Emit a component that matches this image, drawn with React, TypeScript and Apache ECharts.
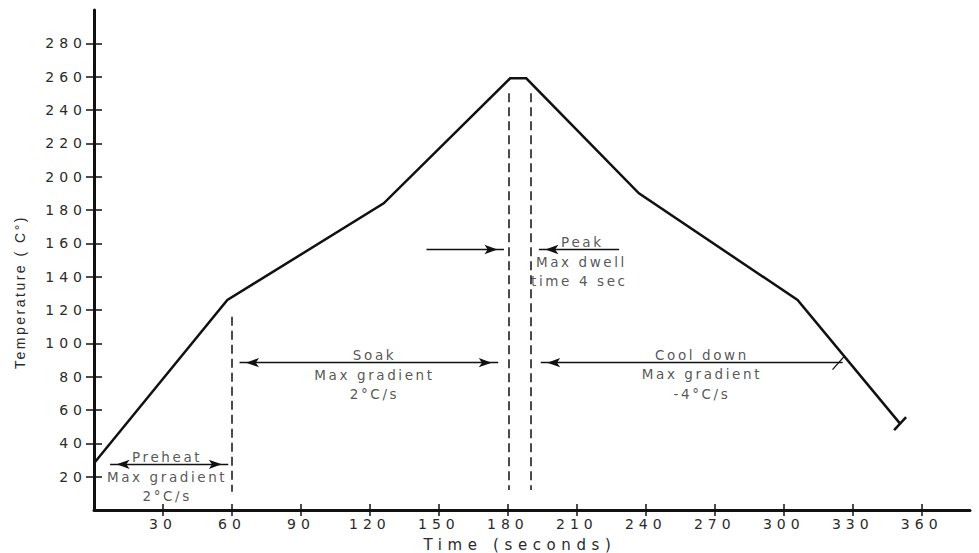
import React, { useEffect, useRef } from "react";
import * as echarts from "echarts";

// ---- Data ----
const xTickValues = [30, 60, 90, 120, 150, 180, 210, 240, 270, 300, 330, 360];
const yTickValues = [20, 40, 60, 80, 100, 120, 140, 160, 180, 200, 220, 240, 260, 280];

// Reflow temperature profile (time s, temperature °C)
const profileTime = [0, 58, 126, 181, 188, 237, 306, 350.5];
const profileTemp = [28, 126, 184, 259, 259, 190, 126, 52];

// Dashed phase boundaries
const phaseLineTime = [60, 180.5, 190];
const phaseLineTop = [116, 250, 250];
const phaseLineBottom = [11, 12, 12];

// Arrows (horizontal)
const arrowStartTime = [7, 63.3, 144.6, 228.4, 325.6];
const arrowEndTime = [58.4, 175.8, 178.3, 193.5, 194.3];
const arrowTemp = [27.4, 88.4, 156.3, 156.3, 88.4];
const arrowHeads = ["both", "both", "end", "end", "end"];

// Short strokes: cool-down arrow tail tick, profile end cap
const strokeFrom = [[321.2, 84.2], [348, 47.9]];
const strokeTo = [[326.3, 92.2], [353.2, 55.7]];
const strokeWidth = [1.3, 2.5];

// Annotation texts
const noteText = [
  "Preheat\nMax gradient\n2°C/s",
  "Soak\nMax gradient\n2°C/s",
  "Peak",
  "Max dwell",
  "time 4 sec",
  "Cool down\nMax gradient\n-4°C/s",
];
const noteTime = [31.8, 122, 212.4, 192, 189.9, 264.4];
const noteTemp = [20.1, 81.1, 160.7, 148.7, 137.7, 81.4];
const noteAlign = ["center", "center", "center", "left", "left", "center"];

const css = `
body { margin: 0; }
text[style*="lsAxis"] { letter-spacing: 5px; }
text[style*="lsX"] { letter-spacing: 5.6px; }
text[style*="lsNote"] { letter-spacing: 2.6px; }
text[style*="lsY"] { letter-spacing: 2.5px; }
`;

const INK = "#111";
const TEXT = "#2a2a2a";

function buildOption() {
  const markData: any[] = [];
  phaseLineTime.forEach((t, i) => {
    markData.push([
      { coord: [t, phaseLineTop[i]], symbol: "none", lineStyle: { color: INK, width: 1.5, type: [9, 5] } },
      { coord: [t, phaseLineBottom[i]], symbol: "none" },
    ]);
  });
  arrowStartTime.forEach((t, i) => {
    markData.push([
      {
        coord: [t, arrowTemp[i]],
        symbol: arrowHeads[i] === "both" ? "arrow" : "none",
        lineStyle: { color: INK, width: 1.3, type: "solid" },
      },
      { coord: [arrowEndTime[i], arrowTemp[i]], symbol: "arrow" },
    ]);
  });
  strokeFrom.forEach((p, i) => {
    markData.push([
      { coord: p, symbol: "none", lineStyle: { color: INK, width: strokeWidth[i], type: "solid" } },
      { coord: strokeTo[i], symbol: "none" },
    ]);
  });

  const notes = noteText.map((txt, i) => ({
    name: txt,
    value: [noteTime[i], noteTemp[i]],
    label: noteAlign[i] === "left" ? { position: "right", distance: 0 } : { position: "inside" },
  }));

  const axisLabelStyle = {
    fontSize: 14,
    fontFamily: "DejaVu Sans, lsAxis",
    color: TEXT,
  };

  return {
    animation: false,
    grid: { left: 94, right: 9, top: 10, bottom: 43, containLabel: false },
    xAxis: [
      {
        type: "value",
        min: 0,
        max: 381,
        interval: 30,
        position: "bottom",
        axisLine: { onZero: false, lineStyle: { color: INK, width: 3 } },
        axisTick: { customValues: xTickValues, length: 6, lineStyle: { color: INK, width: 1.5 } },
        axisLabel: {
          ...axisLabelStyle,
          customValues: xTickValues,
          margin: 7,
          formatter: (v: number) => (v === 0 || v > 370 ? "" : String(v)),
        },
        splitLine: { show: false },
      },
      {
        type: "value",
        min: 0,
        max: 381,
        interval: 30,
        position: "bottom",
        axisLine: { show: false, onZero: false },
        axisTick: { inside: true, customValues: xTickValues, length: 6, lineStyle: { color: INK, width: 1.5 } },
        axisLabel: { show: false },
        splitLine: { show: false },
      },
    ],
    yAxis: [
      {
        type: "value",
        min: 0,
        max: 300,
        interval: 20,
        position: "left",
        axisLine: { show: true, onZero: false, lineStyle: { color: INK, width: 3 } },
        axisTick: { show: true, customValues: yTickValues, length: 8, lineStyle: { color: INK, width: 1.5 } },
        axisLabel: {
          ...axisLabelStyle,
          customValues: yTickValues,
          margin: 7,
          formatter: (v: number) => (v === 0 || v === 300 ? "" : String(v)),
        },
        splitLine: { show: false },
      },
      {
        type: "value",
        min: 0,
        max: 300,
        interval: 20,
        position: "left",
        axisLine: { show: false, onZero: false },
        axisTick: { show: true, inside: true, customValues: yTickValues, length: 8, lineStyle: { color: INK, width: 1.5 } },
        axisLabel: { show: false },
        splitLine: { show: false },
      },
    ],
    graphic: [
      {
        type: "text",
        x: 20,
        y: 292,
        rotation: Math.PI / 2,
        style: {
          text: "Temperature ( C°)",
          align: "center",
          verticalAlign: "middle",
          fontSize: 14,
          fontFamily: "Liberation Sans, lsY",
          fill: TEXT,
        },
      },
      {
        type: "text",
        x: 520,
        y: 545,
        style: {
          text: "Time (seconds)",
          align: "center",
          verticalAlign: "middle",
          fontSize: 15,
          fontFamily: "DejaVu Sans, lsX",
          fill: TEXT,
        },
      },
    ],
    series: [
      {
        type: "line",
        xAxisIndex: 0,
        yAxisIndex: 0,
        data: profileTime.map((t, i) => [t, profileTemp[i]]),
        showSymbol: false,
        symbol: "none",
        silent: true,
        lineStyle: { color: INK, width: 2.5, join: "miter" },
        markLine: {
          silent: true,
          animation: false,
          symbol: ["none", "none"],
          symbolSize: [7, 13],
          symbolOffset: [[0, 6.5], [0, 6.5]],
          label: { show: false },
          emphasis: { disabled: true },
          lineStyle: { color: INK, width: 1.3, type: "solid" },
          itemStyle: { color: INK },
          data: markData,
        },
      },
      {
        type: "scatter",
        xAxisIndex: 0,
        yAxisIndex: 0,
        silent: true,
        symbolSize: 1,
        itemStyle: { color: "rgba(0,0,0,0)" },
        label: {
          show: true,
          formatter: "{b}",
          fontSize: 13.5,
          lineHeight: 19.5,
          fontFamily: "DejaVu Sans, lsNote",
          color: TEXT,
        },
        data: notes,
      },
    ],
  };
}

export default function App() {
  const ref = useRef<HTMLDivElement>(null);
  useEffect(() => {
    if (!ref.current) return;
    const chart = echarts.init(ref.current, null, { renderer: "svg" });
    chart.setOption(buildOption() as any);
    return () => chart.dispose();
  }, []);
  return (
    <>
      <style>{css}</style>
      <div ref={ref} style={{ width: 979, height: 553 }} />
    </>
  );
}
